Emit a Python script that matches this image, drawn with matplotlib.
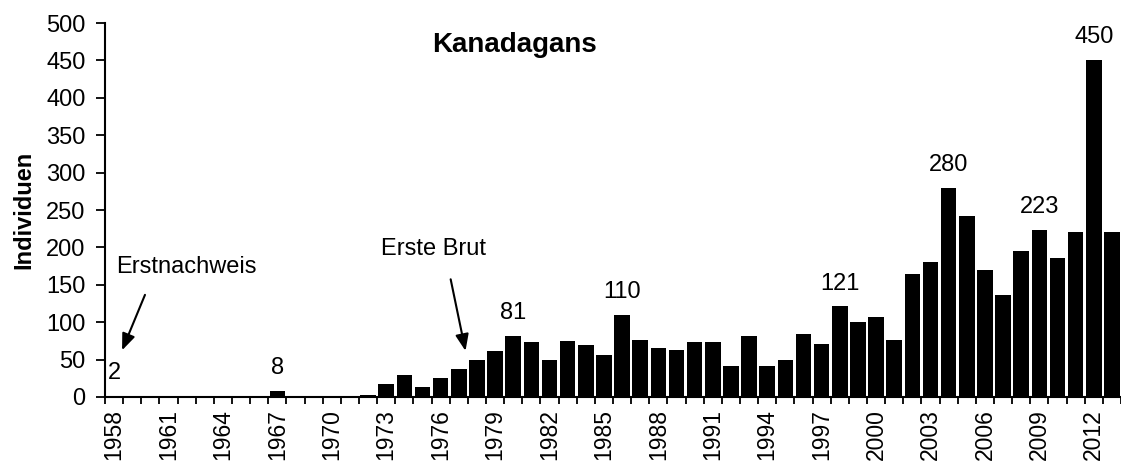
import numpy as np
import matplotlib.pyplot as plt

plt.rcParams['font.family'] = ['Liberation Sans', 'DejaVu Sans']

# Kanadagans counts per year
years = np.arange(1958, 2014)
counts = [2, 0, 0, 0, 0, 0, 0, 0, 0, 8,
          0, 0, 0, 0, 3, 17, 29, 13, 26, 37,
          49, 62, 81, 74, 50, 75, 70, 56, 110, 76,
          66, 63, 74, 73, 42, 82, 42, 49, 84, 71,
          121, 100, 107, 76, 164, 181, 280, 242, 170, 137,
          195, 223, 186, 221, 450, 221]

# years with value labels
labelled = [1958, 1967, 1980, 1986, 1998, 2004, 2009, 2012]

fig = plt.figure(figsize=(11.21, 4.62), dpi=100)
ax = fig.add_axes([0.0937, 0.1407, 0.9063, 0.8095])

x = np.arange(len(years))
ax.bar(x, counts, width=0.86, color="black")

ax.set_xlim(-0.5, len(years) - 0.5)
ax.set_ylim(0, 500)
ax.set_yticks(np.arange(0, 501, 50))

# ticks between categories, labels every third year
ax.set_xticks(np.arange(len(years) + 1) - 0.5, minor=False)
ax.set_xticklabels([])
ax.set_xticks(x[::3], minor=True)
ax.set_xticklabels([str(y) for y in years[::3]], minor=True, rotation=90, fontsize=16.5)
ax.tick_params(axis="x", which="major", length=5, width=1.3, direction="out")
ax.tick_params(axis="x", which="minor", length=0, pad=8.5)
ax.tick_params(axis="y", length=6.5, width=1.3, labelsize=17, pad=7.5)

for s in ["top", "right"]:
    ax.spines[s].set_visible(False)
for s in ["left", "bottom"]:
    ax.spines[s].set_linewidth(1.5)

ax.set_ylabel("Individuen", fontsize=17, fontweight="bold", labelpad=8)

for yr in labelled:
    i = yr - years[0]
    ax.annotate(str(counts[i]), (x[i], counts[i]), xytext=(0, 16.5),
                textcoords="offset points", ha="center", va="center", fontsize=17)

ax.text(22.05, 470, "Kanadagans", ha="center", va="center",
        fontsize=20, fontweight="bold")

ax.annotate("", xy=(0.38, 59), xytext=(1.76, 140),
            arrowprops=dict(arrowstyle="-|>,head_length=1.0,head_width=0.4",
                            color="black", lw=1.5))
ax.text(4.0, 174, "Erstnachweis", ha="center", va="center", fontsize=17)

ax.annotate("", xy=(19.4, 58), xytext=(18.52, 161),
            arrowprops=dict(arrowstyle="-|>,head_length=1.0,head_width=0.4",
                            color="black", lw=1.5))
ax.text(17.58, 198, "Erste Brut", ha="center", va="center", fontsize=17)

fig.savefig("out.png", dpi=100)
